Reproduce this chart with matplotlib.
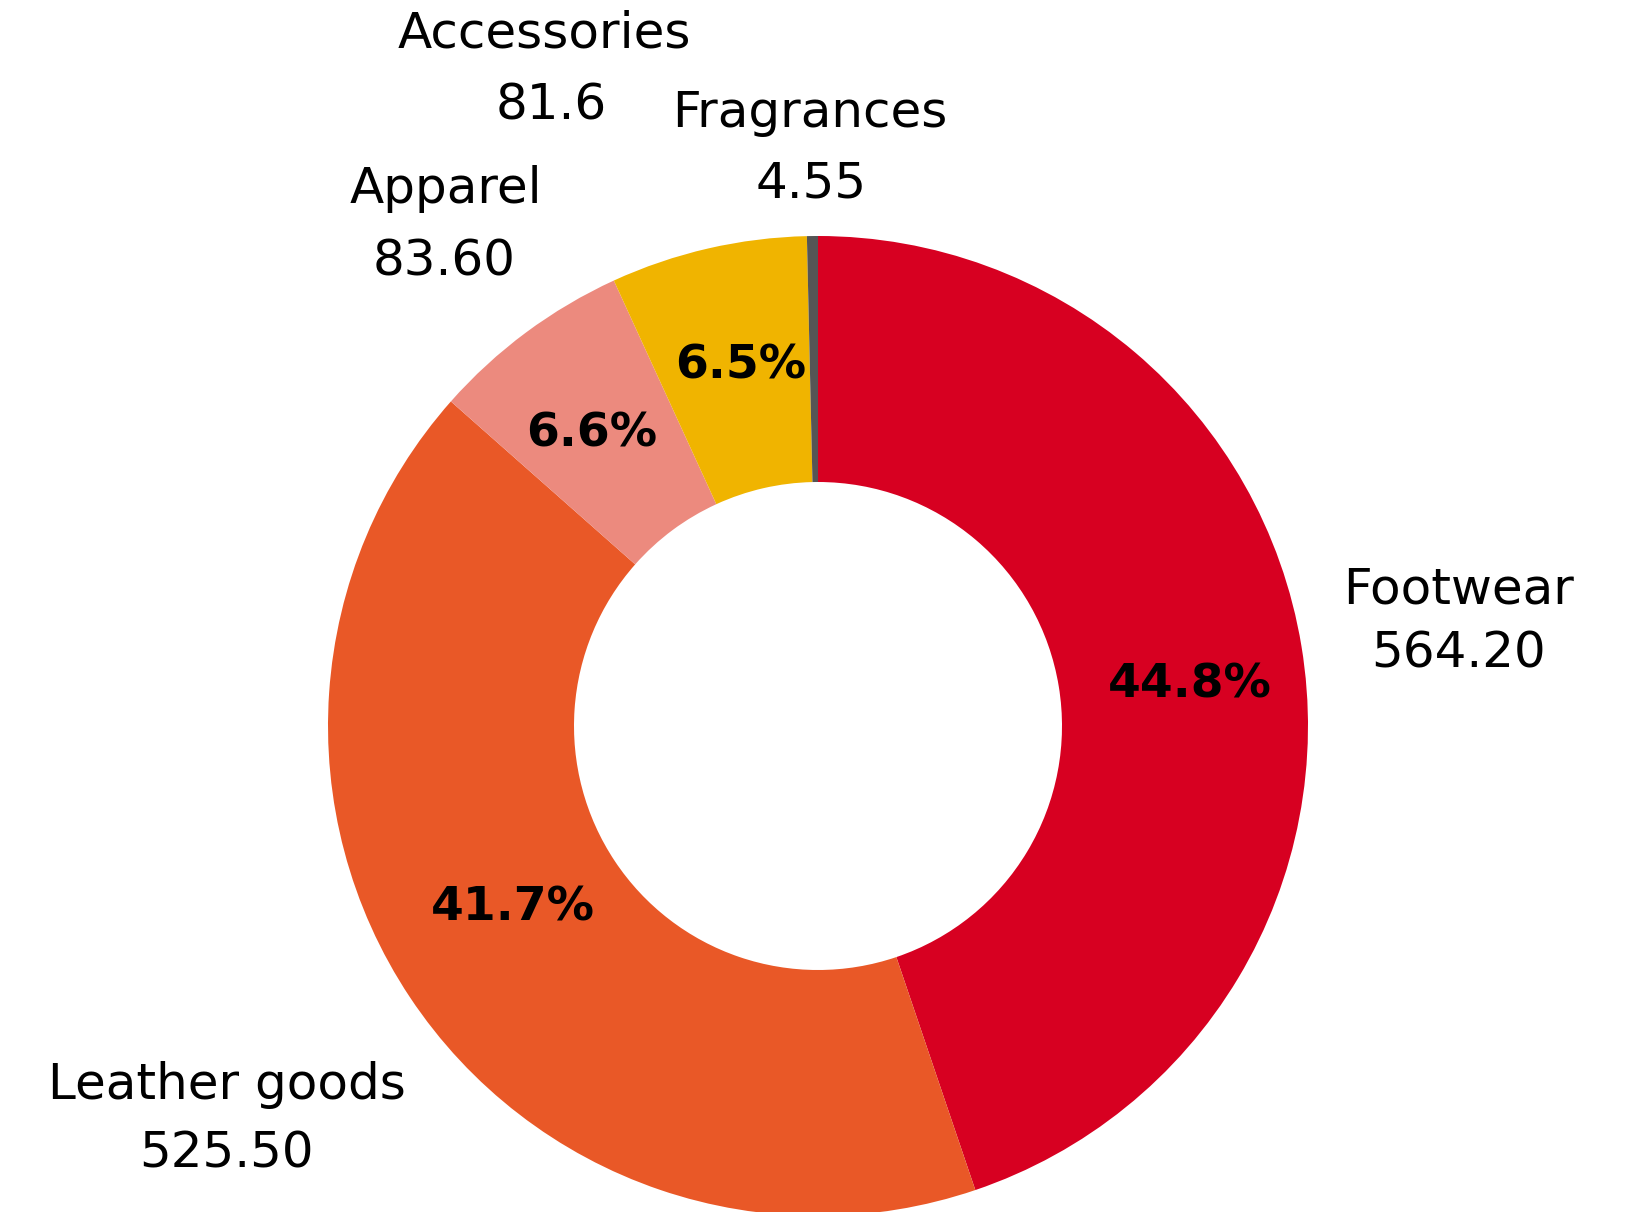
import matplotlib.pyplot as plt

# sales by category
categories = ["Footwear", "Leather goods", "Apparel", "Accessories", "Fragrances"]
values = [564.20, 525.50, 83.60, 81.6, 4.55]
value_labels = ["564.20", "525.50", "83.60", "81.6", "4.55"]
colors = ["#D70021", "#E95827", "#EC8A7E", "#F0B400", "#555555"]

W, H = 1634, 1212
plt.rcParams['font.family'] = ['DejaVu Sans']

fig = plt.figure(figsize=(W / 100, H / 100), dpi=100)
ax = fig.add_axes([0, 0, 1, 1])

# donut, clockwise from 12 o'clock
cx, cy, r_out, r_in = 818, H - 726, 490, 244
ax.pie(values, colors=colors, startangle=90, counterclock=False,
       center=(cx, cy), radius=r_out, frame=True,
       wedgeprops=dict(width=r_out - r_in, linewidth=0))
ax.set_xlim(0, W)
ax.set_ylim(0, H)
ax.set_aspect('equal')
ax.axis('off')

# name / value label positions (pixel coords from top-left)
name_pos = [(1459, 590), (227, 1085), (446, 189), (544, 33), (810, 113)]
value_pos = [(1459, 653), (227, 1154), (444, 261), (551, 105), (811, 184)]
# percentage positions inside the ring (fragrances has none)
pct_pos = [(1190, 685), (513, 908), (592, 434), (741, 366), None]

total = sum(values)
for i, cat in enumerate(categories):
    nx, ny = name_pos[i]
    vx, vy = value_pos[i]
    ax.text(nx, H - ny, cat, ha='center', va='center', fontsize=36,
            fontweight='normal', color='black')
    ax.text(vx, H - vy, value_labels[i], ha='center', va='center', fontsize=36,
            fontweight='normal', color='black')
    if pct_pos[i] is not None:
        px, py = pct_pos[i]
        ax.text(px, H - py, f"{values[i] / total * 100:.1f}%", ha='center',
                va='center', fontsize=34, fontweight='bold', color='black')

fig.savefig("out.png", dpi=100)
